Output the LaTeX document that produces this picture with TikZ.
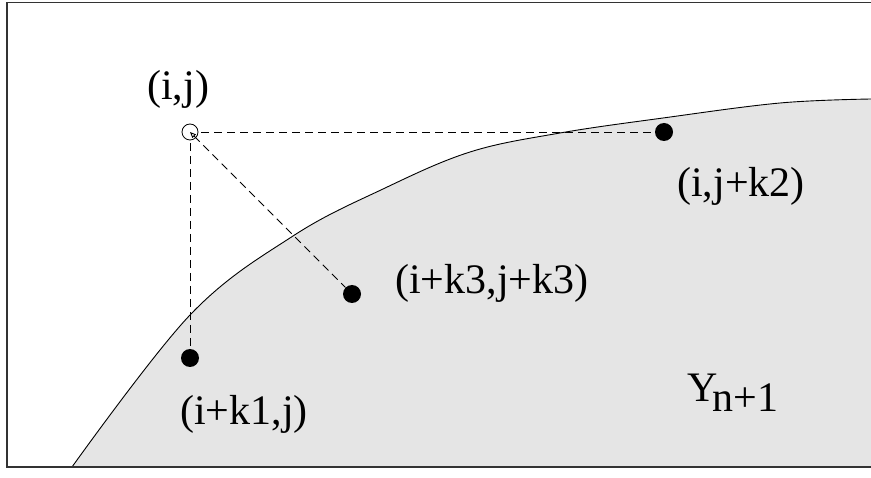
\documentclass[tikz,border=0pt]{standalone}
\usepackage{fontspec}
\setmainfont{Liberation Serif}
\usetikzlibrary{arrows.meta}
\begin{document}
\begin{tikzpicture}[x=1pt, y=-1pt,
    every node/.style={font=\fontsize{42}{48}\selectfont, inner sep=0pt},
    pt/.style={circle, fill=black, minimum size=18pt},
    hole/.style={circle, draw, line width=0.8pt, minimum size=16pt, outer sep=3pt},
    guide/.style={dash pattern=on 8pt off 5pt, line width=0.9pt}]
    \useasboundingbox (0,0) rectangle (871,478);

    % region Y_{n+1}
    \fill[black!10] plot[smooth, tension=0.6] coordinates {(72,467) (190,315) (293,236) (383,189) (470,152) (560,133) (663,118) (780,103) (871,99)} -- (871,467) -- cycle;
    \draw[line width=0.9pt] plot[smooth, tension=0.6] coordinates {(72,467) (190,315) (293,236) (383,189) (470,152) (560,133) (663,118) (780,103) (871,99)};

    % frame
    \draw[line width=1.5pt, black!80] (880,2.5) -- (7,2.5) -- (7,467) -- (880,467);

    \node[hole] (ij) at (190,132) {};
    \node[pt] (k2) at (664,132) {};
    \node[pt] (k3) at (352,294) {};
    \node[pt] (k1) at (190,358) {};

    \draw[guide] (ij) -- (k2);
    \draw[guide] (ij) -- (k1);
    \draw[guide, {Triangle[open, length=6pt, width=5pt]}-] (ij.center) -- (k3);

    \node[anchor=base west] (lij) at (147,100) {(i,j)};
    \node[anchor=base west] (lk2) at (677,197) {(i,j+k2)};
    \node[anchor=base west] (lk3) at (395,294) {(i+k3,j+k3)};
    \node[anchor=base west] (lk1) at (180,425) {(i+k1,j)};
    \node[anchor=base west] (ly) at (687,402) {Y\kern-5pt\raisebox{-10pt}{n+1}};
\end{tikzpicture}
\end{document}
